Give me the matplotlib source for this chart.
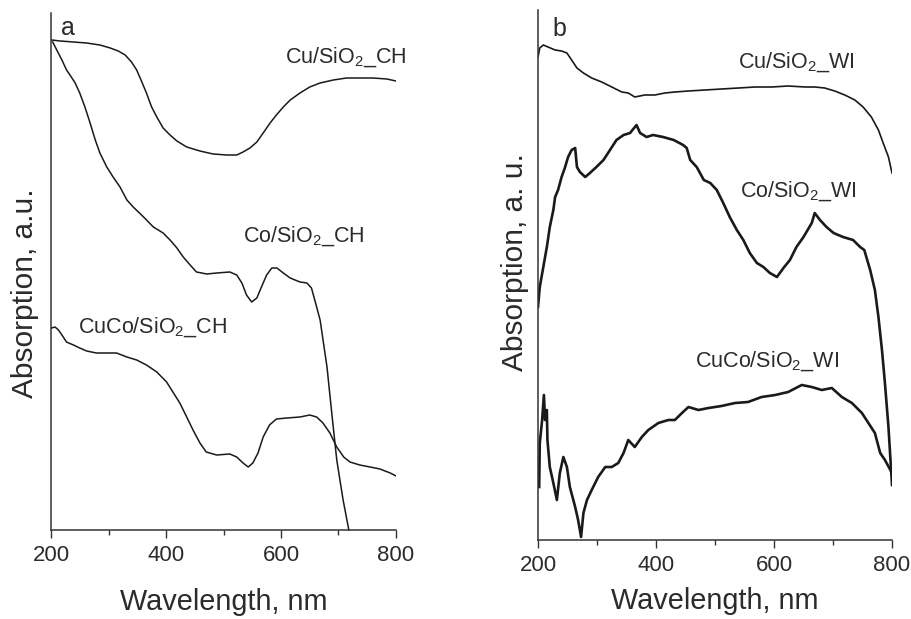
import matplotlib
matplotlib.use("Agg")
import matplotlib.pyplot as plt

plt.rcParams['font.family'] = ['Liberation Sans', 'DejaVu Sans']
plt.rcParams['mathtext.fontset'] = 'custom'
plt.rcParams['mathtext.rm'] = 'Liberation Sans'
plt.rcParams['mathtext.it'] = 'Liberation Sans:italic'
plt.rcParams['mathtext.bf'] = 'Liberation Sans:bold'

# ---------------- Panel a (values in arbitrary units) -------------
cu_ch_x = [201, 216, 239, 262, 285, 303, 317, 329, 340, 349, 358, 366, 375, 384, 395, 407,
           419, 436, 459, 482, 506, 523, 534, 546, 558, 569, 581, 592, 604, 616, 633, 650,
           668, 691, 714, 737, 760, 784, 800]
cu_ch_y = [490, 489, 488, 487, 485, 482, 479, 475, 468, 460, 448, 437, 423, 413, 402, 395,
           389, 383, 379, 376, 375, 375, 378, 382, 388, 397, 407, 415, 423, 430, 437, 443,
           447, 450, 452, 452, 452, 451, 449]

co_ch_x = [203, 210, 219, 227, 233, 242, 250, 259, 268, 277, 285, 297, 308, 320, 332, 343,
           361, 378, 395, 407, 419, 430, 442, 453, 471, 488, 511, 523, 532, 540, 549, 558,
           566, 575, 584, 593, 604, 616, 633, 645, 653, 662, 668, 680, 689, 697, 708, 718]
co_ch_y = [488, 480, 470, 460, 455, 447, 437, 423, 407, 390, 377, 363, 353, 343, 330, 323,
           313, 303, 297, 290, 282, 273, 265, 258, 256, 257, 258, 255, 247, 235, 228, 232,
           243, 255, 262, 262, 257, 252, 248, 247, 242, 223, 210, 163, 113, 70, 30, 0]

cuco_ch_x = [201, 207, 213, 219, 227, 239, 250, 262, 279, 297, 314, 332, 349, 366, 384, 401,
             412, 424, 436, 447, 459, 470, 488, 511, 523, 534, 543, 551, 560, 569, 580, 592,
             610, 633, 650, 662, 673, 685, 697, 709, 720, 737, 755, 772, 790, 800]
cuco_ch_y = [202, 203, 200, 195, 188, 185, 182, 179, 177, 177, 177, 173, 170, 165, 158, 148,
             138, 127, 113, 100, 87, 78, 75, 76, 73, 67, 63, 67, 77, 93, 105, 111,
             112, 113, 115, 113, 107, 97, 83, 73, 68, 65, 63, 61, 57, 54]

# ---------------- Panel b -------------
cu_wi_x = [200, 203, 209, 217, 229, 240, 249, 257, 266, 277, 291, 308, 325, 342, 353, 364,
           381, 398, 415, 432, 455, 483, 511, 540, 568, 596, 624, 653, 669, 686, 703, 720,
           737, 751, 765, 777, 785, 794, 800]
cu_wi_y = [483, 492, 495, 493, 490, 489, 487, 480, 472, 467, 462, 458, 453, 448, 447, 443,
           445, 445, 447, 448, 449, 450, 451, 452, 453, 453, 454, 453, 453, 452, 449, 445,
           440, 433, 423, 410, 397, 383, 367]

co_wi_x = [200, 203, 209, 215, 220, 226, 229, 234, 240, 246, 251, 257, 263, 266, 271, 280,
           288, 299, 311, 322, 333, 345, 356, 367, 373, 384, 395, 412, 430, 446, 452, 458,
           469, 481, 492, 503, 514, 525, 537, 548, 559, 571, 582, 593, 605, 616, 627, 638,
           650, 664, 669, 678, 689, 701, 717, 734, 746, 753, 763, 771, 777, 783, 788, 794,
           800]
co_wi_y = [233, 253, 273, 293, 313, 330, 343, 350, 363, 373, 383, 390, 392, 373, 368, 363,
           367, 373, 380, 390, 400, 405, 407, 415, 407, 403, 405, 403, 400, 395, 392, 380,
           373, 360, 357, 350, 337, 323, 310, 300, 287, 277, 273, 267, 263, 272, 280, 293,
           303, 317, 327, 320, 313, 307, 303, 300, 293, 290, 270, 250, 223, 190, 157, 113,
           55]

cuco_wi_x = [202, 203, 207, 210, 212, 215, 216, 220, 226, 232, 237, 243, 249, 254, 263, 268,
             273, 277, 283, 291, 302, 314, 325, 336, 345, 353, 364, 376, 387, 404, 421, 432,
             444, 455, 472, 489, 511, 534, 556, 579, 602, 624, 647, 664, 681, 698, 715, 732,
             749, 760, 771, 780, 788, 800]
cuco_wi_y = [53, 97, 120, 145, 120, 130, 100, 73, 57, 40, 67, 83, 73, 53, 33, 20,
             3, 27, 40, 50, 63, 73, 73, 77, 87, 100, 93, 103, 110, 117, 120, 120,
             127, 133, 130, 132, 134, 137, 138, 143, 145, 148, 155, 153, 150, 152, 143, 137,
             127, 117, 107, 87, 80, 67]

xticks = [200, 400, 600, 800]
xminor = [300, 500, 700]

W, H = 912, 619
fig = plt.figure(figsize=(W / 100, H / 100), dpi=100)

ink = '#1a1a1a'
txt = '#2b2b2b'


def make_axes(l, r, b, t):
    ax = fig.add_axes([l / W, 1 - b / H, (r - l) / W, (b - t) / H])
    for s in ('top', 'right'):
        ax.spines[s].set_visible(False)
    for s in ('left', 'bottom'):
        ax.spines[s].set_color('#333333')
        ax.spines[s].set_linewidth(1.1)
    ax.set_xlim(200, 800)
    ax.set_xticks(xticks)
    ax.set_xticks(xminor, minor=True)
    ax.set_yticks([])
    ax.tick_params(axis='x', which='major', direction='out', length=6, width=1.0,
                   colors='#333333', labelsize=16, labelcolor=txt, pad=5)
    ax.tick_params(axis='x', which='minor', direction='out', length=3.5, width=1.0,
                   colors='#333333')
    return ax


fs_lab = 15.5
fs_ax = 20.8

# Panel a
axa = make_axes(51, 396, 530, 13)
axa.set_ylim(0, 517)
axa.plot(cu_ch_x, cu_ch_y, color=ink, lw=1.1)
axa.plot(co_ch_x, co_ch_y, color=ink, lw=1.1, clip_on=False)
axa.plot(cuco_ch_x, cuco_ch_y, color=ink, lw=1.1)
axa.text(607, 467, 'Cu/SiO$_2$_CH', fontsize=fs_lab, color=txt, va='baseline', ha='left')
axa.text(534, 288, 'Co/SiO$_2$_CH', fontsize=fs_lab, color=txt, va='baseline', ha='left')
axa.text(247, 197, 'CuCo/SiO$_2$_CH', fontsize=fs_lab, color=txt, va='baseline', ha='left')
axa.text(217, 495, 'a', fontsize=18, color=txt, va='baseline', ha='left')
axa.set_xlabel('Wavelength, nm', fontsize=fs_ax, color=txt, labelpad=16)
fig.text(25 / W, 1 - 293 / H, 'Absorption, a.u.', rotation=90, fontsize=21.5, color=txt,
         ha='center', va='center')

# Panel b
axb = make_axes(538, 892, 540, 10)
axb.set_ylim(0, 530)
axb.plot(cu_wi_x, cu_wi_y, color=ink, lw=1.2)
axb.plot(co_wi_x, co_wi_y, color=ink, lw=1.9)
axb.plot(cuco_wi_x, cuco_wi_y, color=ink, lw=1.9)
axb.text(539, 472, 'Cu/SiO$_2$_WI', fontsize=fs_lab, color=txt, va='baseline', ha='left')
axb.text(542, 343, 'Co/SiO$_2$_WI', fontsize=fs_lab, color=txt, va='baseline', ha='left')
axb.text(466, 173, 'CuCo/SiO$_2$_WI', fontsize=fs_lab, color=txt, va='baseline', ha='left')
axb.text(224, 504, 'b', fontsize=18, color=txt, va='baseline', ha='left')
axb.set_xlabel('Wavelength, nm', fontsize=fs_ax, color=txt, labelpad=8)
fig.text(515 / W, 1 - 262 / H, 'Absorption, a. u.', rotation=90, fontsize=21.5, color=txt,
         ha='center', va='center')

fig.savefig('out.png', dpi=100)
